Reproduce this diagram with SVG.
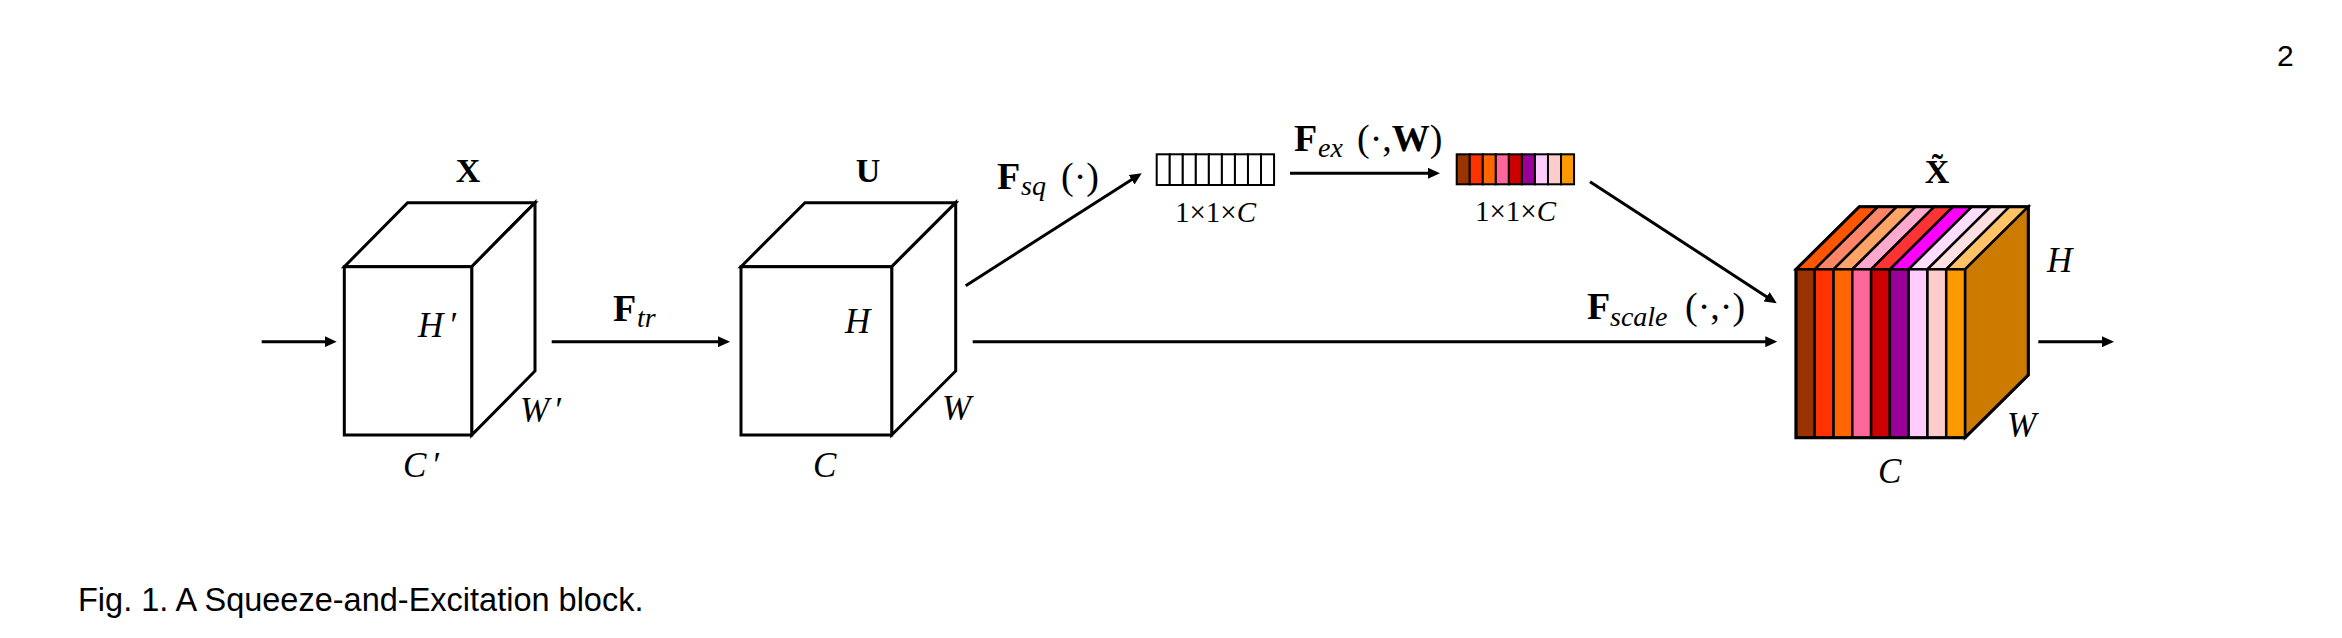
<svg xmlns="http://www.w3.org/2000/svg" width="2342" height="638" viewBox="0 0 2342 638">
<style>
.m{font-family:"Liberation Serif","Times New Roman",serif;fill:#000}
.it{font-style:italic}
.b{font-weight:bold}
.dimlbl{font-size:35px;font-style:italic}
.name{font-size:34px;font-weight:bold;text-anchor:middle}
.fn{font-size:38px}
.sub{font-size:28px;font-style:italic}
.vec{font-size:29px}
.edge{stroke:#000;stroke-width:3;fill:none}
.cube{stroke:#000;stroke-width:3;fill:#fff;stroke-linejoin:miter}
.cell{stroke:#000;stroke-width:2}
.sans{font-family:"Liberation Sans",Arial,sans-serif;fill:#000}
</style>
<defs>
<marker id="arr" markerUnits="userSpaceOnUse" markerWidth="12" markerHeight="11" refX="4" refY="5.5" orient="auto">
<path d="M0,0 L12,5.5 L0,11 z" fill="#000"/>
</marker>
</defs>
<rect width="2342" height="638" fill="#fff"/>

<!-- Node X -->
<g id="node-X">
<polygon class="cube" points="344.3,266.7 407.6,202.7 535,202.7 471.7,266.7"/>
<polygon class="cube" points="471.7,266.7 535,202.7 535,371 471.7,435"/>
<rect class="cube" x="344.3" y="266.7" width="127.4" height="168.3"/>
<text class="m name" x="468" y="182">X</text>
<text class="m dimlbl" x="418" y="337">H<tspan dx="5">′</tspan></text>
<text class="m dimlbl" x="520" y="422">W<tspan dx="4">′</tspan></text>
<text class="m dimlbl" x="403" y="477">C<tspan dx="5">′</tspan></text>
</g>

<!-- Node U -->
<g id="node-U">
<polygon class="cube" points="741,266.7 805,202.7 955.7,202.7 891.7,266.7"/>
<polygon class="cube" points="891.7,266.7 955.7,202.7 955.7,371 891.7,435"/>
<rect class="cube" x="741" y="266.7" width="150.7" height="168.3"/>
<text class="m name" x="868" y="182">U</text>
<text class="m dimlbl" x="845" y="333">H</text>
<text class="m dimlbl" x="942" y="420">W</text>
<text class="m dimlbl" x="813" y="477">C</text>
</g>

<!-- Node squeeze vector -->
<g id="node-squeeze">
<g fill="#fff" class="cell">
<rect x="1156.7" y="154.3" width="13.04" height="30.7"/>
<rect x="1169.74" y="154.3" width="13.04" height="30.7"/>
<rect x="1182.78" y="154.3" width="13.04" height="30.7"/>
<rect x="1195.82" y="154.3" width="13.04" height="30.7"/>
<rect x="1208.86" y="154.3" width="13.04" height="30.7"/>
<rect x="1221.9" y="154.3" width="13.04" height="30.7"/>
<rect x="1234.94" y="154.3" width="13.04" height="30.7"/>
<rect x="1247.98" y="154.3" width="13.04" height="30.7"/>
<rect x="1261.02" y="154.3" width="13.04" height="30.7"/>
</g>
<text class="m vec" x="1175" y="221.5">1×1×<tspan class="it">C</tspan></text>
</g>

<!-- Node excitation vector -->
<g id="node-excite">
<g class="cell">
<rect x="1456.7" y="154.3" width="13.04" height="30" fill="#993300"/>
<rect x="1469.74" y="154.3" width="13.04" height="30" fill="#FF3300"/>
<rect x="1482.78" y="154.3" width="13.04" height="30" fill="#FF6600"/>
<rect x="1495.82" y="154.3" width="13.04" height="30" fill="#FF6699"/>
<rect x="1508.86" y="154.3" width="13.04" height="30" fill="#CC0000"/>
<rect x="1521.9" y="154.3" width="13.04" height="30" fill="#990099"/>
<rect x="1534.94" y="154.3" width="13.04" height="30" fill="#FFCCFF"/>
<rect x="1547.98" y="154.3" width="13.04" height="30" fill="#FFCCCC"/>
<rect x="1561.02" y="154.3" width="13.04" height="30" fill="#FF9900"/>
</g>
<text class="m vec" x="1475" y="221">1×1×<tspan class="it">C</tspan></text>
</g>

<!-- Node X tilde -->
<g id="node-Xtilde">
<g stroke="#000" stroke-width="2.5" stroke-linejoin="miter">
<polygon points="1796,269.3 1814.78,269.3 1878.08,206.7 1859.3,206.7" fill="#FF5500"/>
<polygon points="1814.78,269.3 1833.56,269.3 1896.86,206.7 1878.08,206.7" fill="#FF8566"/>
<polygon points="1833.56,269.3 1852.33,269.3 1915.63,206.7 1896.86,206.7" fill="#FFA366"/>
<polygon points="1852.33,269.3 1871.11,269.3 1934.41,206.7 1915.63,206.7" fill="#FFAACC"/>
<polygon points="1871.11,269.3 1889.89,269.3 1953.19,206.7 1934.41,206.7" fill="#FF3333"/>
<polygon points="1889.89,269.3 1908.67,269.3 1971.97,206.7 1953.19,206.7" fill="#FF00FF"/>
<polygon points="1908.67,269.3 1927.44,269.3 1990.74,206.7 1971.97,206.7" fill="#FFDDFF"/>
<polygon points="1927.44,269.3 1946.22,269.3 2009.52,206.7 1990.74,206.7" fill="#FFE0E0"/>
<polygon points="1946.22,269.3 1965,269.3 2028.3,206.7 2009.52,206.7" fill="#FFC266"/>
<polygon points="1965,269.3 2028.3,206.7 2028.3,375 1965,437.7" fill="#CC7A00"/>
<rect x="1796" y="269.3" width="18.78" height="168.4" fill="#993300"/>
<rect x="1814.78" y="269.3" width="18.78" height="168.4" fill="#FF3300"/>
<rect x="1833.56" y="269.3" width="18.77" height="168.4" fill="#FF6600"/>
<rect x="1852.33" y="269.3" width="18.78" height="168.4" fill="#FF6699"/>
<rect x="1871.11" y="269.3" width="18.78" height="168.4" fill="#CC0000"/>
<rect x="1889.89" y="269.3" width="18.78" height="168.4" fill="#990099"/>
<rect x="1908.67" y="269.3" width="18.77" height="168.4" fill="#FFCCFF"/>
<rect x="1927.44" y="269.3" width="18.78" height="168.4" fill="#FFCCCC"/>
<rect x="1946.22" y="269.3" width="18.78" height="168.4" fill="#FF9900"/>
</g>
<polygon points="1796,269.3 1859.3,206.7 2028.3,206.7 2028.3,375 1965,437.7 1796,437.7" fill="none" stroke="#000" stroke-width="3" stroke-linejoin="miter"/>
<text class="m name" x="1937" y="183">X̃</text>
<text class="m dimlbl" x="2047" y="272">H</text>
<text class="m dimlbl" x="2007" y="437">W</text>
<text class="m dimlbl" x="1878" y="483">C</text>
</g>

<!-- Connectors -->
<g id="connectors">
<line class="edge" x1="261.7" y1="341.7" x2="328.7" y2="341.7" marker-end="url(#arr)"/>
<line class="edge" x1="551.7" y1="341.7" x2="722" y2="341.7" marker-end="url(#arr)"/>
<line class="edge" x1="965.7" y1="285.7" x2="1135" y2="177.6" marker-end="url(#arr)"/>
<line class="edge" x1="1290" y1="173.3" x2="1432" y2="173.3" marker-end="url(#arr)"/>
<line class="edge" x1="1590" y1="181.7" x2="1770" y2="298.9" marker-end="url(#arr)"/>
<line class="edge" x1="972.7" y1="341.7" x2="1769.3" y2="341.7" marker-end="url(#arr)"/>
<line class="edge" x1="2038.3" y1="341.7" x2="2106" y2="341.7" marker-end="url(#arr)"/>
<text class="m fn" x="613" y="321"><tspan class="b">F</tspan><tspan class="sub" x="637" y="327">tr</tspan></text>
<text class="m fn" x="997" y="189"><tspan class="b">F</tspan><tspan class="sub" x="1021" y="195">sq</tspan><tspan x="1061" y="189">(·)</tspan></text>
<text class="m fn" x="1294" y="151"><tspan class="b">F</tspan><tspan class="sub" x="1318" y="157">ex</tspan><tspan x="1357" y="151">(·,</tspan><tspan class="b">W</tspan><tspan>)</tspan></text>
<text class="m fn" x="1587" y="319"><tspan class="b">F</tspan><tspan class="sub" x="1610" y="326">scale</tspan><tspan x="1685" y="319">(·,·)</tspan></text>
</g>

<text class="sans" x="2277" y="66" font-size="30">2</text>
<text class="sans" x="78" y="611" font-size="32.5">Fig. 1. A Squeeze-and-Excitation block.</text>
</svg>
